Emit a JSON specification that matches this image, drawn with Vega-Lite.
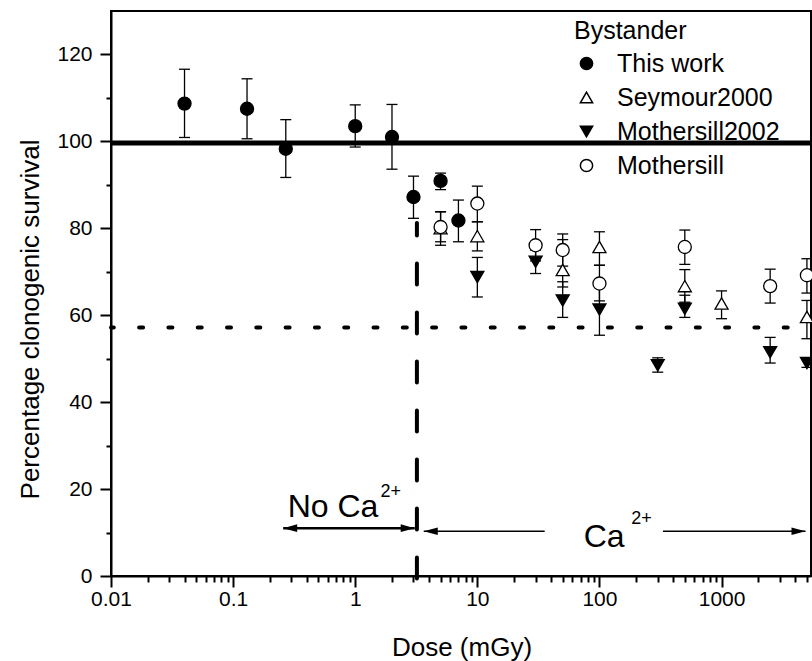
{
  "$schema": "https://vega.github.io/schema/vega-lite/v6.json",
  "width": 700,
  "height": 565,
  "autosize": {"type": "none"},
  "padding": {"left": 111, "top": 11, "right": 1, "bottom": 85},
  "background": "white",
  "config": {
    "view": {"stroke": "black", "strokeWidth": 2},
    "font": "Liberation Sans",
    "axis": {
      "domainColor": "black", "domainWidth": 2, "tickColor": "black", "tickWidth": 2,
      "labelFont": "Liberation Sans", "labelFontSize": 21, "labelColor": "black",
      "titleFont": "Liberation Sans", "titleFontSize": 26, "titleFontWeight": "normal", "titleColor": "black",
      "grid": false, "labelOverlap": false
    },
    "legend": {
      "titleFont": "Liberation Sans", "labelFont": "Liberation Sans", "labelLimit": 400
    }
  },
  "datasets": {
    "pts": [
      {"series": "This work", "dose": 0.04, "surv": 108.7, "lo": 100.9, "hi": 116.6},
      {"series": "This work", "dose": 0.13, "surv": 107.5, "lo": 100.6, "hi": 114.4},
      {"series": "This work", "dose": 0.27, "surv": 98.3, "lo": 91.7, "hi": 105.0},
      {"series": "This work", "dose": 1.0, "surv": 103.5, "lo": 98.7, "hi": 108.4},
      {"series": "This work", "dose": 2.0, "surv": 101.0, "lo": 93.6, "hi": 108.5},
      {"series": "This work", "dose": 3.0, "surv": 87.2, "lo": 82.3, "hi": 92.0},
      {"series": "This work", "dose": 5.0, "surv": 90.9, "lo": 88.9, "hi": 92.7},
      {"series": "This work", "dose": 7.0, "surv": 81.8, "lo": 76.9, "hi": 86.5},
      {"series": "Seymour2000", "dose": 5, "surv": 80.0, "lo": 76.1, "hi": 83.8},
      {"series": "Seymour2000", "dose": 10, "surv": 78.2, "lo": 74.8, "hi": 81.5},
      {"series": "Seymour2000", "dose": 50, "surv": 70.4, "lo": 66.5, "hi": 77.4},
      {"series": "Seymour2000", "dose": 100, "surv": 75.7, "lo": 71.5, "hi": 79.2},
      {"series": "Seymour2000", "dose": 500, "surv": 66.7, "lo": 63.0, "hi": 70.5},
      {"series": "Seymour2000", "dose": 1000, "surv": 62.7, "lo": 59.2, "hi": 65.6},
      {"series": "Seymour2000", "dose": 5000, "surv": 59.6, "lo": 54.6, "hi": 63.4},
      {"series": "Mothersill2002", "dose": 10, "surv": 68.8, "lo": 64.2, "hi": 73.3},
      {"series": "Mothersill2002", "dose": 30, "surv": 72.3, "lo": 69.6, "hi": 75.0},
      {"series": "Mothersill2002", "dose": 50, "surv": 63.4, "lo": 59.5, "hi": 67.7},
      {"series": "Mothersill2002", "dose": 100, "surv": 61.3, "lo": 55.4, "hi": 67.0},
      {"series": "Mothersill2002", "dose": 300, "surv": 48.5, "lo": 46.9, "hi": 50.2},
      {"series": "Mothersill2002", "dose": 500, "surv": 61.5, "lo": 59.5, "hi": 64.6},
      {"series": "Mothersill2002", "dose": 2500, "surv": 51.5, "lo": 49.0, "hi": 54.9},
      {"series": "Mothersill2002", "dose": 5000, "surv": 49.0, "lo": 48.0, "hi": 50.0},
      {"series": "Mothersill", "dose": 5, "surv": 80.3, "lo": 76.9, "hi": 83.8},
      {"series": "Mothersill", "dose": 10, "surv": 85.7, "lo": 81.5, "hi": 89.7},
      {"series": "Mothersill", "dose": 30, "surv": 76.1, "lo": 72.5, "hi": 79.7},
      {"series": "Mothersill", "dose": 50, "surv": 75.0, "lo": 71.3, "hi": 78.7},
      {"series": "Mothersill", "dose": 100, "surv": 67.3, "lo": 63.3, "hi": 71.5},
      {"series": "Mothersill", "dose": 500, "surv": 75.7, "lo": 71.7, "hi": 79.6},
      {"series": "Mothersill", "dose": 2500, "surv": 66.7, "lo": 62.8, "hi": 70.6},
      {"series": "Mothersill", "dose": 5000, "surv": 69.2, "lo": 65.1, "hi": 73.0}
    ],
    "thickArrow": [{"a": 0.257, "b": 3.07, "v": 11.0}],
    "thinArrow": [{"a": 3.64, "b": 35.6, "v": 10.3}, {"a": 331, "b": 4870, "v": 10.3}],
    "headLeft": [{"dose": 0.257, "v": 11.0}, {"dose": 3.64, "v": 10.3}],
    "headRight": [{"dose": 3.07, "v": 11.0}, {"dose": 4870, "v": 10.3}],
    "bigText": [{"t": "No Ca", "dose": 0.28, "v": 13.5}, {"t": "Ca", "dose": 74.3, "v": 6.6}],
    "smallText": [{"t": "2+", "dose": 1.61, "v": 18.1}, {"t": "2+", "dose": 182.4, "v": 12.0}],
    "refLines": [{"control": 99.6, "bystanderMean": 57.2, "caDose": 3.2, "caLo": -0.6, "caHi": 81.2}]
  },
  "layer": [
    {
      "data": {"name": "pts"},
      "mark": {"type": "rule", "color": "black", "strokeWidth": 1.3},
      "encoding": {
        "x": {
          "field": "dose", "type": "quantitative",
          "scale": {"type": "log", "domain": [0.01, 5400], "nice": false},
          "axis": {
            "title": "Dose (mGy)", "titleX": 350.5, "titleY": 79, "titleBaseline": "alphabetic",
            "values": [0.01,0.02,0.03,0.04,0.05,0.06,0.07,0.08,0.09,0.1,0.2,0.3,0.4,0.5,0.6,0.7,0.8,0.9,1,2,3,4,5,6,7,8,9,10,20,30,40,50,60,70,80,90,100,200,300,400,500,600,700,800,900,1000,2000,3000,4000,5000],
            "format": "~g",
            "labelExpr": "abs(log(datum.value)/LN10 - round(log(datum.value)/LN10)) < 0.000001 ? datum.label : ''",
            "tickSize": {"condition": {"test": "abs(log(datum.value)/LN10 - round(log(datum.value)/LN10)) < 0.000001", "value": 11}, "value": 6},
            "labelPadding": 1,
            "labelFlush": false
          }
        },
        "y": {
          "field": "lo", "type": "quantitative",
          "scale": {"domain": [0, 130], "nice": false, "zero": false},
          "axis": {
            "title": "Percentage clonogenic survival", "titleX": -72.5, "titleY": 308, "titleBaseline": "alphabetic", "titleAngle": -90, "titleAlign": "center",
            "values": [0,10,20,30,40,50,60,70,80,90,100,110,120],
            "labelExpr": "datum.value % 20 === 0 ? datum.label : ''",
            "tickSize": {"condition": {"test": "datum.value % 20 === 0", "value": 11}, "value": 5},
            "labelPadding": 8
          }
        },
        "y2": {"field": "hi"}
      }
    },
    {
      "data": {"name": "pts"},
      "mark": {"type": "point", "shape": "M-1,0L1,0", "filled": false, "stroke": "black", "strokeWidth": 1.3, "size": 121, "opacity": 1},
      "encoding": {
        "x": {"field": "dose", "type": "quantitative"},
        "y": {"field": "lo", "type": "quantitative"}
      }
    },
    {
      "data": {"name": "pts"},
      "mark": {"type": "point", "shape": "M-1,0L1,0", "filled": false, "stroke": "black", "strokeWidth": 1.3, "size": 121, "opacity": 1},
      "encoding": {
        "x": {"field": "dose", "type": "quantitative"},
        "y": {"field": "hi", "type": "quantitative"}
      }
    },
    {
      "data": {"name": "refLines"},
      "mark": {"type": "rule", "color": "black", "strokeWidth": 5},
      "encoding": {"y": {"field": "control", "type": "quantitative"}}
    },
    {
      "data": {"name": "refLines"},
      "mark": {"type": "rule", "color": "black", "strokeWidth": 4, "strokeDash": [4, 25.3], "strokeCap": "round", "strokeDashOffset": 6},
      "encoding": {"y": {"field": "bystanderMean", "type": "quantitative"}}
    },
    {
      "data": {"name": "refLines"},
      "mark": {"type": "rule", "color": "black", "strokeWidth": 4, "strokeDash": [21, 28], "strokeCap": "round"},
      "encoding": {
        "x": {"field": "caDose", "type": "quantitative"},
        "y": {"field": "caLo", "type": "quantitative"},
        "y2": {"field": "caHi"}
      }
    },
    {
      "data": {"name": "thickArrow"},
      "mark": {"type": "rule", "color": "black", "strokeWidth": 2.5},
      "encoding": {
        "x": {"field": "a", "type": "quantitative"},
        "x2": {"field": "b"},
        "y": {"field": "v", "type": "quantitative"}
      }
    },
    {
      "data": {"name": "thinArrow"},
      "mark": {"type": "rule", "color": "black", "strokeWidth": 1.5},
      "encoding": {
        "x": {"field": "a", "type": "quantitative"},
        "x2": {"field": "b"},
        "y": {"field": "v", "type": "quantitative"}
      }
    },
    {
      "data": {"name": "headLeft"},
      "mark": {"type": "point", "shape": "M0,0L2,-0.55L2,0.55Z", "filled": true, "color": "black", "size": 196, "opacity": 1},
      "encoding": {
        "x": {"field": "dose", "type": "quantitative"},
        "y": {"field": "v", "type": "quantitative"}
      }
    },
    {
      "data": {"name": "headRight"},
      "mark": {"type": "point", "shape": "M0,0L-2,-0.55L-2,0.55Z", "filled": true, "color": "black", "size": 196, "opacity": 1},
      "encoding": {
        "x": {"field": "dose", "type": "quantitative"},
        "y": {"field": "v", "type": "quantitative"}
      }
    },
    {
      "data": {"name": "bigText"},
      "mark": {"type": "text", "fontSize": 32, "align": "left", "baseline": "alphabetic", "color": "black", "font": "Liberation Sans"},
      "encoding": {
        "x": {"field": "dose", "type": "quantitative"},
        "y": {"field": "v", "type": "quantitative"},
        "text": {"field": "t"}
      }
    },
    {
      "data": {"name": "smallText"},
      "mark": {"type": "text", "fontSize": 18, "align": "left", "baseline": "alphabetic", "color": "black", "font": "Liberation Sans"},
      "encoding": {
        "x": {"field": "dose", "type": "quantitative"},
        "y": {"field": "v", "type": "quantitative"},
        "text": {"field": "t"}
      }
    },
    {
      "data": {"name": "pts"},
      "mark": {"type": "point", "filled": true, "stroke": "black", "strokeWidth": 1.3, "opacity": 1, "size": 170},
      "encoding": {
        "x": {"field": "dose", "type": "quantitative"},
        "y": {"field": "surv", "type": "quantitative"},
        "shape": {
          "field": "series", "type": "nominal",
          "scale": {"domain": ["This work", "Seymour2000", "Mothersill2002", "Mothersill"], "range": ["circle", "triangle-up", "triangle-down", "circle"]},
          "legend": {
            "title": "Bystander", "orient": "none", "legendX": 463, "legendY": 8,
            "titleFontSize": 25, "titleFontWeight": "normal", "titleColor": "black", "titlePadding": 7,
            "labelFontSize": 25, "labelColor": "black", "labelOffset": 18, "rowPadding": 8, "labelLimit": 400,
            "symbolSize": 150, "padding": 0,
            "encode": {"symbols": {"update": {"stroke": {"value": "black"}, "strokeWidth": {"value": 1.3}, "opacity": {"value": 1}}}}
          }
        },
        "fill": {
          "field": "series", "type": "nominal",
          "scale": {"domain": ["This work", "Seymour2000", "Mothersill2002", "Mothersill"], "range": ["black", "white", "black", "white"]},
          "legend": {
            "title": "Bystander", "orient": "none", "legendX": 463, "legendY": 8,
            "titleFontSize": 25, "titleFontWeight": "normal", "titleColor": "black", "titlePadding": 7,
            "labelFontSize": 25, "labelColor": "black", "labelOffset": 18, "rowPadding": 8, "labelLimit": 400,
            "symbolSize": 150, "padding": 0,
            "encode": {"symbols": {"update": {"stroke": {"value": "black"}, "strokeWidth": {"value": 1.3}, "opacity": {"value": 1}}}}
          }
        }
      }
    }
  ]
}
